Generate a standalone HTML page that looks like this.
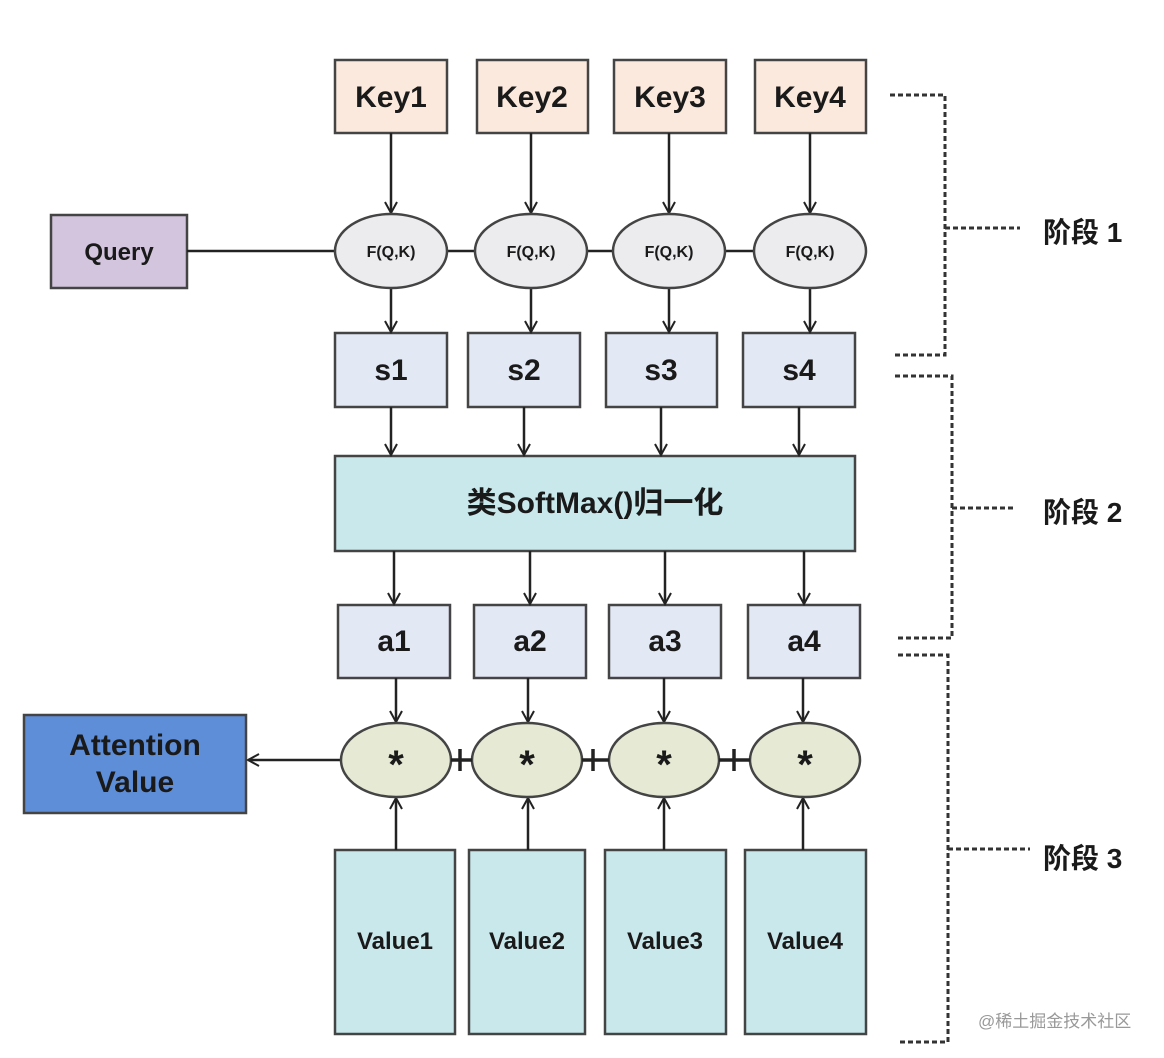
<!DOCTYPE html>
<html><head><meta charset="utf-8"><style>
html,body{margin:0;padding:0;background:#fff;}
svg{display:block;}
text{font-family:"Liberation Sans","Noto Sans CJK SC",sans-serif;font-weight:bold;fill:#1a1a1a;}
</style></head><body>
<svg width="1164" height="1058" viewBox="0 0 1164 1058" xmlns="http://www.w3.org/2000/svg">
<defs>
<marker id="ar" markerWidth="14" markerHeight="14" refX="12" refY="7" orient="auto" markerUnits="userSpaceOnUse">
<path d="M1,1 L12,7 L1,13" fill="none" stroke="#222" stroke-width="2"/>
</marker>
</defs>
<g stroke="#444" stroke-width="2.5">
<!-- Keys -->
<rect x="335" y="60" width="112" height="73" fill="#fbe9dd"/>
<rect x="477" y="60" width="111" height="73" fill="#fbe9dd"/>
<rect x="614" y="60" width="112" height="73" fill="#fbe9dd"/>
<rect x="755" y="60" width="111" height="73" fill="#fbe9dd"/>
<!-- Query -->
<rect x="51" y="215" width="136" height="73" fill="#d2c5dd"/>
<!-- s -->
<rect x="335" y="333" width="112" height="74" fill="#e3e8f5"/>
<rect x="468" y="333" width="112" height="74" fill="#e3e8f5"/>
<rect x="606" y="333" width="111" height="74" fill="#e3e8f5"/>
<rect x="743" y="333" width="112" height="74" fill="#e3e8f5"/>
<!-- softmax -->
<rect x="335" y="456" width="520" height="95" fill="#c9e8ec"/>
<!-- a -->
<rect x="338" y="605" width="112" height="73" fill="#e3e8f5"/>
<rect x="474" y="605" width="112" height="73" fill="#e3e8f5"/>
<rect x="609" y="605" width="112" height="73" fill="#e3e8f5"/>
<rect x="748" y="605" width="112" height="73" fill="#e3e8f5"/>
<!-- attention -->
<rect x="24" y="715" width="222" height="98" fill="#5f8ed8"/>
<!-- values -->
<rect x="335" y="850" width="120" height="184" fill="#c9e8ec"/>
<rect x="469" y="850" width="116" height="184" fill="#c9e8ec"/>
<rect x="605" y="850" width="121" height="184" fill="#c9e8ec"/>
<rect x="745" y="850" width="121" height="184" fill="#c9e8ec"/>
</g>
<g stroke="#222" stroke-width="2.5" fill="none">
<!-- query line -->
<line x1="187" y1="251" x2="866" y2="251"/>
<!-- key arrows -->
<line x1="391" y1="133" x2="391" y2="213" marker-end="url(#ar)"/>
<line x1="531" y1="133" x2="531" y2="213" marker-end="url(#ar)"/>
<line x1="669" y1="133" x2="669" y2="213" marker-end="url(#ar)"/>
<line x1="810" y1="133" x2="810" y2="213" marker-end="url(#ar)"/>
<line x1="391" y1="288" x2="391" y2="332" marker-end="url(#ar)"/>
<line x1="531" y1="288" x2="531" y2="332" marker-end="url(#ar)"/>
<line x1="669" y1="288" x2="669" y2="332" marker-end="url(#ar)"/>
<line x1="810" y1="288" x2="810" y2="332" marker-end="url(#ar)"/>
<line x1="391" y1="407" x2="391" y2="455" marker-end="url(#ar)"/>
<line x1="524" y1="407" x2="524" y2="455" marker-end="url(#ar)"/>
<line x1="661" y1="407" x2="661" y2="455" marker-end="url(#ar)"/>
<line x1="799" y1="407" x2="799" y2="455" marker-end="url(#ar)"/>
<line x1="394" y1="551" x2="394" y2="604" marker-end="url(#ar)"/>
<line x1="530" y1="551" x2="530" y2="604" marker-end="url(#ar)"/>
<line x1="665" y1="551" x2="665" y2="604" marker-end="url(#ar)"/>
<line x1="804" y1="551" x2="804" y2="604" marker-end="url(#ar)"/>
<line x1="396" y1="678" x2="396" y2="722" marker-end="url(#ar)"/>
<line x1="528" y1="678" x2="528" y2="722" marker-end="url(#ar)"/>
<line x1="664" y1="678" x2="664" y2="722" marker-end="url(#ar)"/>
<line x1="803" y1="678" x2="803" y2="722" marker-end="url(#ar)"/>
<line x1="396" y1="850" x2="396" y2="798" marker-end="url(#ar)"/>
<line x1="528" y1="850" x2="528" y2="798" marker-end="url(#ar)"/>
<line x1="664" y1="850" x2="664" y2="798" marker-end="url(#ar)"/>
<line x1="803" y1="850" x2="803" y2="798" marker-end="url(#ar)"/>
<line x1="341" y1="760" x2="248" y2="760" marker-end="url(#ar)"/>
</g>
<g stroke="#444" stroke-width="2.5">
<ellipse cx="391" cy="251" rx="56" ry="37" fill="#ececef"/>
<ellipse cx="531" cy="251" rx="56" ry="37" fill="#ececef"/>
<ellipse cx="669" cy="251" rx="56" ry="37" fill="#ececef"/>
<ellipse cx="810" cy="251" rx="56" ry="37" fill="#ececef"/>
<ellipse cx="396" cy="760" rx="55" ry="37" fill="#e6ead5"/>
<ellipse cx="527" cy="760" rx="55" ry="37" fill="#e6ead5"/>
<ellipse cx="664" cy="760" rx="55" ry="37" fill="#e6ead5"/>
<ellipse cx="805" cy="760" rx="55" ry="37" fill="#e6ead5"/>
</g>
<!-- plus signs -->
<g stroke="#222" stroke-width="3.5">
<line x1="451" y1="760" x2="472" y2="760"/><line x1="460" y1="749" x2="460" y2="771"/>
<line x1="582" y1="760" x2="609" y2="760"/><line x1="593" y1="749" x2="593" y2="771"/>
<line x1="719" y1="760" x2="750" y2="760"/><line x1="734" y1="749" x2="734" y2="771"/>
</g>
<!-- labels -->
<g text-anchor="middle">
<text x="391" y="107" font-size="30">Key1</text>
<text x="532" y="107" font-size="30">Key2</text>
<text x="670" y="107" font-size="30">Key3</text>
<text x="810" y="107" font-size="30">Key4</text>
<text x="119" y="260" font-size="24" fill="#2a1f3a">Query</text>
<text x="391" y="257" font-size="16">F(Q,K)</text>
<text x="531" y="257" font-size="16">F(Q,K)</text>
<text x="669" y="257" font-size="16">F(Q,K)</text>
<text x="810" y="257" font-size="16">F(Q,K)</text>
<text x="391" y="380" font-size="30">s1</text>
<text x="524" y="380" font-size="30">s2</text>
<text x="661" y="380" font-size="30">s3</text>
<text x="799" y="380" font-size="30">s4</text>
<text x="595" y="513" font-size="30">类SoftMax()归一化</text>
<text x="394" y="651" font-size="30">a1</text>
<text x="530" y="651" font-size="30">a2</text>
<text x="665" y="651" font-size="30">a3</text>
<text x="804" y="651" font-size="30">a4</text>
<text x="396" y="778" font-size="40" fill="#2a3a1a">*</text>
<text x="527" y="778" font-size="40" fill="#2a3a1a">*</text>
<text x="664" y="778" font-size="40" fill="#2a3a1a">*</text>
<text x="805" y="778" font-size="40" fill="#2a3a1a">*</text>
<text x="135" y="755" font-size="30" fill="#0f1e3a">Attention</text>
<text x="135" y="792" font-size="30" fill="#0f1e3a">Value</text>
<text x="395" y="949" font-size="24" fill="#1a2a33">Value1</text>
<text x="527" y="949" font-size="24" fill="#1a2a33">Value2</text>
<text x="665" y="949" font-size="24" fill="#1a2a33">Value3</text>
<text x="805" y="949" font-size="24" fill="#1a2a33">Value4</text>
</g>
<!-- brackets -->
<g stroke="#333" stroke-width="3" stroke-dasharray="5,3" fill="none">
<polyline points="890,95 945,95 945,355 892,355"/>
<line x1="945" y1="228" x2="1020" y2="228"/>
<polyline points="895,376 952,376 952,638 898,638"/>
<line x1="952" y1="508" x2="1015" y2="508"/>
<polyline points="898,655 948,655 948,1042 898,1042"/>
<line x1="948" y1="849" x2="1030" y2="849"/>
</g>
<g font-size="28">
<text x="1043" y="242">阶段 1</text>
<text x="1043" y="522">阶段 2</text>
<text x="1043" y="868">阶段 3</text>
</g>
<text x="978" y="1027" font-size="17" style="font-weight:normal;fill:#999">@稀土掘金技术社区</text>
</svg>
</body></html>
